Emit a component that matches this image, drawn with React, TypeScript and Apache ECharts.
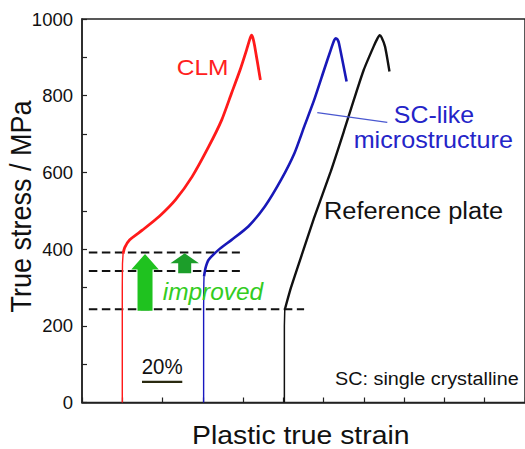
import React, { useEffect, useRef } from 'react';
import * as echarts from 'echarts';

// Y tick labels (every 200 MPa; minor ticks every 100)
const yTickLabels = [0, 200, 400, 600, 800, 1000];

// Curves: [plastic true strain (%), true stress (MPa)]
const clmElastic = [[20.0, 0], [20.0, 300], [20.1, 362], [20.4, 388]];
const clmPlastic = [
  [20.4, 388], [21.2, 404], [23.6, 424], [30.1, 450], [38.3, 485], [46.5, 529],
  [54.7, 589], [62.9, 667], [69.4, 737], [74.3, 807], [78.5, 867], [81.7, 919],
  [83.5, 950], [84.2, 958], [84.9, 950], [85.8, 928], [88.6, 841],
];
const scElastic = [[60.4, 0], [60.4, 250], [60.5, 310], [60.6, 329]];
const scPlastic = [
  [60.6, 329], [61.3, 350], [62.9, 372], [67.8, 398], [74.3, 424], [82.6, 459],
  [90.8, 511], [98.9, 581], [105.5, 650], [110.4, 720], [115.3, 789], [120.2, 867],
  [123.5, 919], [125.3, 945], [126.0, 950], [126.8, 947], [127.6, 937], [131.4, 837],
];
const refElastic = [[100.5, 0], [100.5, 200], [100.7, 242]];
const refPlastic = [
  [100.7, 242], [103.8, 300], [108.7, 378], [115.3, 482], [123.5, 602], [130.1, 708],
  [135.0, 789], [139.9, 867], [144.8, 928], [146.8, 950], [147.8, 958], [148.8, 952],
  [150.5, 928], [152.7, 863],
];

// Dashed yield-stress guide lines
const dashCLM = [[3.4, 391], [78.4, 391]];
const dashSC = [[3.4, 343], [78.4, 343]];
const dashRef = [[3.4, 243], [110.3, 243]];

// Scale bar: 20 % strain
const scaleBar = [[29.8, 54], [49.8, 54]];

// Improvement arrows: [strain position, from stress, to stress]
const arrows = [[31.3, 239, 387], [51.0, 337, 389]];

const FONT = '"Liberation Sans", Arial, Helvetica, sans-serif';

export default function App() {
  const ref = useRef<HTMLDivElement>(null);
  useEffect(() => {
    const chart = echarts.init(ref.current!, null, { renderer: 'svg' });
    const lineSeries = (data: number[][], color: string, width: number, smooth: number | boolean = false, type: any = 'solid') => ({
      type: 'line',
      data,
      showSymbol: false,
      symbol: 'none',
      smooth,
      lineStyle: { color, width, type, cap: 'butt' },
      silent: true,
      z: 3,
    });
    const arrowSizes = [
      { sw: 15, hw: 27.5, hh: 15.5, fill: '#1fc21f' },
      { sw: 13, hw: 28.5, hh: 10, fill: '#1c9e2a' },
    ];
    const txt = (text: string, x: number, y: number, fontSize: number, fill: string, align: string, extra: any = {}, styleExtra: any = {}) => ({
      type: 'text',
      x,
      y,
      z: 10,
      ...extra,
      style: {
        text,
        x: 0,
        y: 0,
        fontSize,
        fontFamily: FONT,
        fill,
        textAlign: align,
        textVerticalAlign: 'middle',
        ...styleExtra,
      },
    });
    chart.setOption({
      animation: false,
      backgroundColor: '#ffffff',
      grid: { left: 82, top: 19, right: -5, bottom: 46.5, show: true, borderColor: '#222', borderWidth: 1.5, backgroundColor: 'transparent' },
      xAxis: {
        type: 'value',
        min: 0,
        max: 220,
        interval: 20,
        axisLine: { show: true, lineStyle: { color: '#222', width: 1.5 } },
        axisTick: { show: true, inside: true, length: 5, lineStyle: { color: '#222', width: 1.2 } },
        axisLabel: { show: false },
        splitLine: { show: false },
      },
      yAxis: {
        type: 'value',
        min: 0,
        max: 1000,
        interval: 100,
        axisLine: { show: true, lineStyle: { color: '#222', width: 1.5 } },
        axisTick: { show: true, inside: true, length: 5, lineStyle: { color: '#222', width: 1.2 } },
        axisLabel: {
          formatter: (v: number) => (yTickLabels.includes(v) ? String(v) : ''),
          fontSize: 18.5,
          fontFamily: FONT,
          color: '#111',
          margin: 9,
        },
        splitLine: { show: false },
      },
      series: [
        lineSeries(dashCLM, '#111', 1.9, false, [8.5, 4.5]),
        lineSeries(dashSC, '#111', 1.9, false, [8.5, 4.5]),
        lineSeries(dashRef, '#111', 1.9, false, [8.5, 4.5]),
        lineSeries(clmElastic, '#ff1a1a', 1.4),
        lineSeries(clmPlastic, '#ff1a1a', 2.8, 0.2),
        lineSeries(scElastic, '#1818c0', 1.4),
        lineSeries(scPlastic, '#1818b8', 2.6, 0.2),
        lineSeries(refElastic, '#111', 1.5),
        lineSeries(refPlastic, '#111', 2.4, 0.2),
        lineSeries(scaleBar, '#2a2a10', 2.2),
        {
          type: 'custom',
          data: arrows,
          encode: { x: 0, y: [1, 2] },
          silent: true,
          z: 4,
          renderItem: (params: any, api: any) => {
            const s = arrowSizes[params.dataIndex];
            const pb = api.coord([api.value(0), api.value(1)]);
            const pt = api.coord([api.value(0), api.value(2)]);
            const cx = pb[0];
            const hb = pt[1] + s.hh;
            const points = [
              [cx - s.sw / 2, pb[1]],
              [cx - s.sw / 2, hb],
              [cx - s.hw / 2, hb],
              [cx, pt[1]],
              [cx + s.hw / 2, hb],
              [cx + s.sw / 2, hb],
              [cx + s.sw / 2, pb[1]],
            ];
            return { type: 'polygon', shape: { points }, style: { fill: s.fill } };
          },
        },
      ],
      graphic: [
        txt('True stress / MPa', 20.8, 206.5, 27, '#111', 'center', { rotation: Math.PI / 2, scaleY: 1.08 }),
        txt('Plastic true strain', 300.8, 435.2, 26.5, '#111', 'center', { scaleX: 1.07 }, { lineHeight: 24 }),
        txt('CLM', 176.7, 67.2, 22.5, '#ff2020', 'left', { scaleX: 1.09 }),
        txt('SC-like', 434, 115, 23.3, '#2424c8', 'center', { scaleX: 1.07 }),
        txt('microstructure', 433.3, 140, 23.3, '#2424c8', 'center', { scaleX: 1.08 }),
        txt('Reference plate', 324, 211, 23.3, '#111', 'left', { scaleX: 1.09 }),
        txt('improved', 162.7, 291.6, 23.5, '#33cc22', 'left', { scaleX: 1.04 }, { fontStyle: 'italic' }),
        txt('SC: single crystalline', 335, 378.3, 18.6, '#111', 'left', { scaleX: 1.065 }),
        txt('20%', 141.7, 366.7, 22.5, '#111', 'left', { scaleX: 0.91 }),
        {
          type: 'line',
          z: 9,
          shape: { x1: 317.3, y1: 112.7, x2: 387.3, y2: 122.3 },
          style: { stroke: '#4a58d0', lineWidth: 1.2 },
        },
      ],
    });
    return () => chart.dispose();
  }, []);
  return (
    <div
      ref={ref}
      style={{ position: 'absolute', left: 0, top: 0, width: 525, height: 449, background: '#fff' }}
    />
  );
}
